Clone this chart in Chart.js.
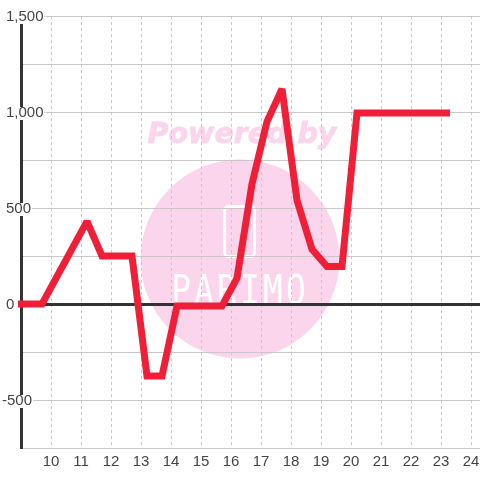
<!DOCTYPE html>
<html lang="en">
  <head>
    <meta charset="utf-8" />
    <title>Chart</title>
    <style>
      * {
        margin: 0;
        padding: 0;
      }
      body {
        background: #fff;
      }
      .chartBox {
        width: 480px;
        height: 480px;
      }
    </style>
  </head>
  <body>
    <div class="chartBox">
      <canvas id="myChart"></canvas>
    </div>
    <script src="https://cdn.jsdelivr.net/npm/chart.js"></script>
    <script>
      // data
      const hours = [8.9, 9.7, 11.2, 11.7, 12.7, 13.2, 13.7, 14.2, 15.7, 16.2, 16.7, 17.2, 17.7, 18.2, 18.7, 19.2, 19.7, 20.2, 23.3];
      const values = [0, 0, 430, 250, 250, -375, -375, -10, -10, 135, 625, 950, 1120, 540, 285, 195, 195, 995, 995];
      const xTickValues = [10, 11, 12, 13, 14, 15, 16, 17, 18, 19, 20, 21, 22, 23, 24];
      const yTickValues = [1500, 1000, 500, 0, -500];
      const yTickLabels = ["1,500", "1,000", "500", "0", "-500"];

      const labelFont = '15px "Liberation Sans"';
      const labelColor = "#444";

      // watermark sits behind the grid
      const watermark = {
        id: "watermark",
        beforeDraw(chart) {
          const { ctx } = chart;
          ctx.save();
          ctx.fillStyle = "#fbd5ec";
          ctx.strokeStyle = "#fbd5ec";
          ctx.beginPath();
          ctx.arc(240, 259, 99.5, 0, Math.PI * 2);
          ctx.fill();
          ctx.font = 'italic bold 28.5px "DejaVu Sans"';
          ctx.textAlign = "center";
          ctx.textBaseline = "middle";
          ctx.lineWidth = 0.8;
          ctx.fillText("Powered by", 242, 136);
          ctx.strokeText("Powered by", 242, 136);
          ctx.strokeStyle = "#fff";
          ctx.lineWidth = 3;
          ctx.beginPath();
          ctx.roundRect(224.5, 206.5, 30, 50, 4);
          ctx.stroke();
          ctx.fillStyle = "#fff";
          ctx.font = '41px "DejaVu Sans Mono"';
          ctx.letterSpacing = "4px";
          ctx.translate(240, 293);
          ctx.scale(0.8, 1);
          ctx.fillText("PARIMO", 0, 0);
          ctx.restore();
        },
      };

      // y labels start at the same x, the minus hangs out to the left
      const yLabels = {
        id: "yLabels",
        beforeDatasetsDraw(chart) {
          const { ctx } = chart;
          const y = chart.scales.y;
          ctx.save();
          ctx.font = labelFont;
          ctx.textAlign = "left";
          ctx.textBaseline = "middle";
          yTickValues.forEach((v, i) => {
            const text = yTickLabels[i];
            const w = ctx.measureText(text).width;
            const px = y.getPixelForValue(v);
            const left = text[0] === "-" ? 2 : 6;
            ctx.fillStyle = "#fff";
            ctx.fillRect(left, px - 5, w + 1, 13);
            ctx.fillStyle = labelColor;
            ctx.fillText(text, left, px + 1);
          });
          ctx.restore();
          // sharp peaks get cut flat
          ctx.miterLimit = 2;
        },
      };

      const config = {
        type: "line",
        data: {
          datasets: [
            {
              data: hours.map((h, i) => ({ x: h, y: values[i] })),
              borderColor: "#f01f38",
              borderWidth: 7,
              pointRadius: 0,
              tension: 0,
              clip: false,
              borderJoinStyle: "miter",
            },
          ],
        },
        options: {
          responsive: false,
          animation: false,
          layout: { padding: { top: 16 } },
          plugins: { legend: { display: false }, tooltip: { enabled: false } },
          scales: {
            x: {
              type: "linear",
              min: 9,
              max: 24.3,
              afterBuildTicks(scale) {
                scale.ticks = xTickValues.map((value) => ({ value }));
              },
              afterFit(scale) {
                scale.height = 32;
                scale.paddingRight = 0;
                scale.paddingLeft = 0;
              },
              grid: {
                color: "#c8c8c8",
                lineWidth: 1,
                drawTicks: false,
              },
              border: { display: false, dash: [3, 3] },
              ticks: {
                autoSkip: false,
                maxRotation: 0,
                padding: 5,
                color: labelColor,
                font: { family: "Liberation Sans", size: 15 },
                callback: (v) => String(v),
              },
            },
            y: {
              min: -750,
              max: 1500,
              afterFit(scale) {
                scale.width = 21;
              },
              grid: {
                color: (ctx) => (ctx.tick && ctx.tick.value === 0 ? "#333" : "#c8c8c8"),
                lineWidth: (ctx) => (ctx.tick && ctx.tick.value === 0 ? 3 : 1),
                drawTicks: false,
              },
              border: { display: true, color: "#333", width: 3 },
              ticks: { stepSize: 250, display: false },
            },
          },
        },
        plugins: [watermark, yLabels],
      };

      const canvas = document.getElementById("myChart");
      canvas.width = 480;
      canvas.height = 480;
      const myChart = new Chart(canvas, config);
    </script>
  </body>
</html>
